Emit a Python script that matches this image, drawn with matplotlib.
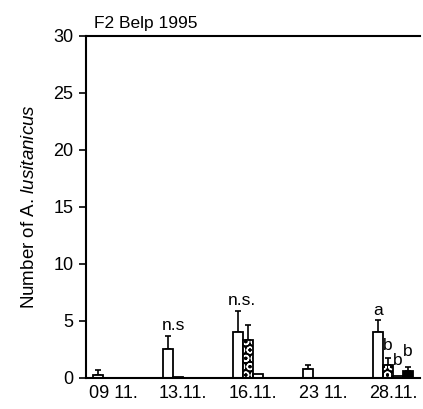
import matplotlib
matplotlib.use("Agg")
import matplotlib.pyplot as plt
import numpy as np

plt.rcParams['font.family'] = ['Liberation Sans', 'DejaVu Sans']
plt.rcParams['mathtext.fontset'] = 'custom'
plt.rcParams['mathtext.rm'] = 'Liberation Sans'
plt.rcParams['mathtext.it'] = 'Liberation Sans:italic'

dates = ["09 11.", "13.11.", "16.11.", "23 11.", "28.11."]
s1 = [0.28, 2.55, 4.05, 0.78, 4.05]
s1_err = [0.4, 1.15, 1.85, 0.32, 1.05]
s2 = [0.0, 0.1, 3.35, 0.0, 1.15]
s2_err = [0.0, 0.0, 1.3, 0.0, 0.6]
s3 = [0.0, 0.0, 0.35, 0.0, 0.18]
s3_err = [0.0, 0.0, 0.0, 0.0, 0.0]
s4 = [0.0, 0.0, 0.0, 0.0, 0.65]
s4_err = [0.0, 0.0, 0.0, 0.0, 0.3]

fig = plt.figure(figsize=(4.23, 4.09), dpi=100)
ax = fig.add_axes([0.203, 0.076, 0.790, 0.836])

x = np.arange(len(dates))
w = 1 / 7.0
offs = [-1.5 * w, -0.5 * w, 0.5 * w, 1.5 * w]
ekw = dict(elinewidth=1.2, capthick=1.2)

def draw(vals, errs, off, fc, hatch=None):
    errs = np.array(errs)
    mask = errs > 0
    if hatch:
        ax.bar(x + off, vals, w, color='black', edgecolor='white', hatch=hatch, linewidth=0, zorder=2)
        ax.bar(x + off, vals, w, fill=False, edgecolor='black', linewidth=1.3, zorder=3)
    else:
        ax.bar(x + off, vals, w, color=fc, edgecolor='black', linewidth=1.3, zorder=2)
    ax.errorbar((x + off)[mask], np.array(vals)[mask],
                yerr=[np.zeros(mask.sum()), errs[mask]],
                fmt='none', ecolor='black', capsize=2.5, zorder=1, **ekw)

draw(s1, s1_err, offs[0], 'white')
draw(s2, s2_err, offs[1], None, hatch='OO')
draw(s3, s3_err, offs[2], 'white')
draw(s4, s4_err, offs[3], 'black')

ax.set_xlim(-0.386, 4.386)
ax.set_ylim(0, 30)
ax.set_yticks(range(0, 31, 5))
ax.set_xticks(x)
ax.set_xticklabels(dates)
ax.tick_params(axis='x', length=0, pad=5, labelsize=13)
ax.tick_params(axis='y', length=5, width=1.2, direction='out', labelsize=13, pad=4)
ax.spines['right'].set_visible(False)
for s in ['left', 'bottom', 'top']:
    ax.spines[s].set_linewidth(1.5)

ax.set_ylabel("Number of A. $\\it{lusitanicus}$", fontsize=13.5, labelpad=11)
ax.set_title("F2 Belp 1995", loc='left', fontsize=12.5, pad=6, x=0.025)

# significance labels
ax.text(1 + offs[0] + 0.08, 3.95, "n.s", ha='center', va='bottom', fontsize=12.5)
ax.text(2 + offs[0] + 0.05, 6.15, "n.s.", ha='center', va='bottom', fontsize=12.5)
ax.text(4 + offs[0], 5.3, "a", ha='center', va='bottom', fontsize=12.5)
ax.text(4 + offs[1], 2.15, "b", ha='center', va='bottom', fontsize=12.5)
ax.text(4 + offs[2], 0.9, "b", ha='center', va='bottom', fontsize=12.5)
ax.text(4 + offs[3], 1.65, "b", ha='center', va='bottom', fontsize=12.5)

fig.savefig("out.png", dpi=100)
